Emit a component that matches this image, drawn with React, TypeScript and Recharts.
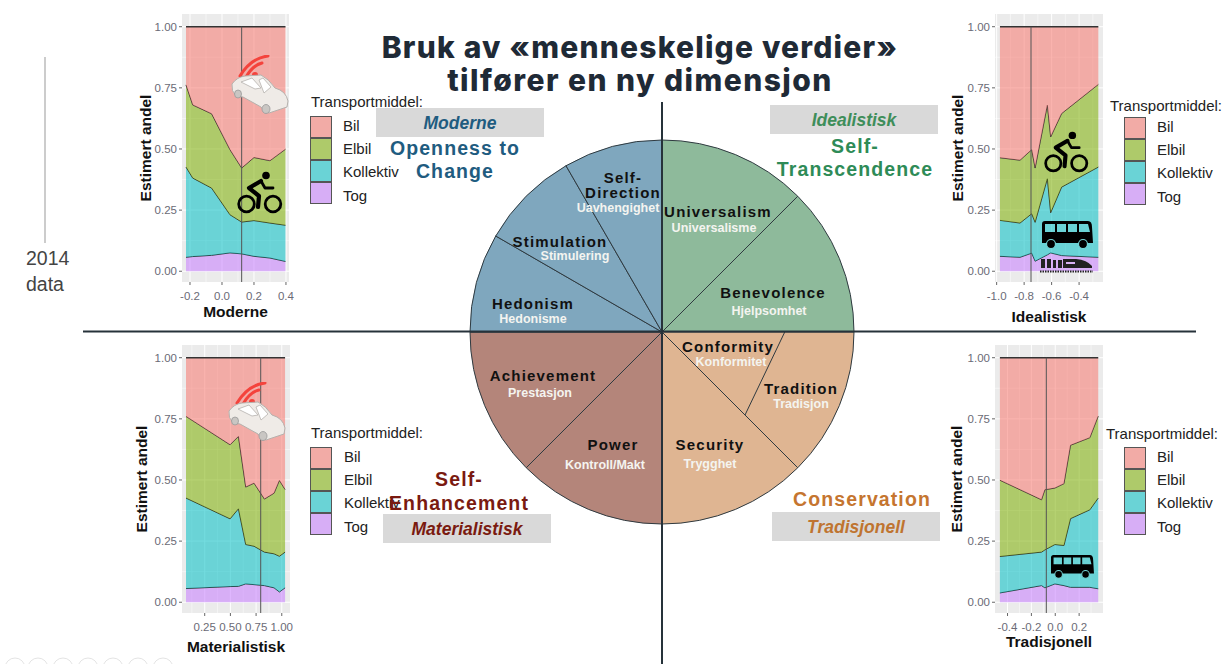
import { AreaChart, Area, XAxis, YAxis, CartesianGrid, ReferenceLine, PieChart, Pie, Cell } from "recharts";

// ---- data (boundaries between the stacked bands) ----
const modes = ["Bil", "Elbil", "Kollektiv", "Tog"];
const modeColors = ["#F8766D", "#7CAE00", "#00BFC4", "#C77CFF"];
const yTicks = [0, 0.25, 0.5, 0.75, 1];
const yMinor = [0.125, 0.375, 0.625, 0.875];

const modX = [-0.225, -0.183, -0.065, 0.05, 0.123, 0.2, 0.3, 0.397];
const modElbil = [0.762, 0.68, 0.644, 0.497, 0.422, 0.465, 0.452, 0.499];
const modKollektiv = [0.426, 0.381, 0.34, 0.231, 0.201, 0.207, 0.197, 0.188];
const modTog = [0.057, 0.06, 0.065, 0.075, 0.071, 0.061, 0.054, 0.04];

const ideX = [-0.976, -0.83, -0.745, -0.72, -0.631, -0.607, -0.527, -0.26];
const ideElbil = [0.464, 0.454, 0.497, 0.422, 0.679, 0.549, 0.645, 0.764];
const ideKollektiv = [0.208, 0.197, 0.235, 0.2, 0.378, 0.239, 0.344, 0.426];
const ideTog = [0.061, 0.057, 0.074, 0.041, 0.067, 0.075, 0.064, 0.057];

const matX = [0.068, 0.497, 0.578, 0.649, 0.73, 0.831, 0.925, 0.977, 1.032];
const matElbil = [0.76, 0.644, 0.678, 0.471, 0.487, 0.422, 0.446, 0.498, 0.461];
const matKollektiv = [0.426, 0.341, 0.382, 0.236, 0.229, 0.205, 0.198, 0.188, 0.205];
const matTog = [0.056, 0.064, 0.065, 0.075, 0.072, 0.068, 0.059, 0.042, 0.059];

const traX = [-0.464, -0.115, -0.087, -0.003, 0.073, 0.128, 0.29, 0.36];
const traElbil = [0.499, 0.419, 0.46, 0.467, 0.485, 0.642, 0.673, 0.761];
const traKollektiv = [0.187, 0.205, 0.214, 0.236, 0.232, 0.342, 0.378, 0.426];
const traTog = [0.038, 0.068, 0.059, 0.075, 0.068, 0.061, 0.061, 0.055];

const pieNames = ["Universalism", "Benevolence", "Tradition", "Security", "Power", "Achievement", "Hedonism", "Stimulation", "Self-Direction"];
const pieValues = [45, 45, 45, 45, 45, 45, 30, 30, 30];
const pieColors = ["#8EBA9B", "#8EBA9B", "#DFB592", "#DFB592", "#B4857A", "#B4857A", "#7FA7BE", "#7FA7BE", "#7FA7BE"];

const rows = (xs: number[], elbil: number[], koll: number[], tog: number[]) =>
  xs.map((x, i) => ({ x, Tog: tog[i], Kollektiv: koll[i] - tog[i], Elbil: elbil[i] - koll[i], Bil: 1 - elbil[i] }));

const sans = "'Liberation Sans', Arial, sans-serif";

function Panel({ left, top, width, title, xs, elbil, koll, tog, domain, ticks, minor, dec, vline, ylabelOffset, xlabelOffset }: any) {
  const yw = 50, xh = 50, h = 268;
  return (
    <div style={{ position: "absolute", left: left - yw, top: top - 4 }}>
      <AreaChart width={yw + width + 14} height={h + 4 + xh} data={rows(xs, elbil, koll, tog)} margin={{ top: 4, right: 14, bottom: 0, left: 0 }}>
        <CartesianGrid fill="#EBEBEB" fillOpacity={1} stroke="#fff" strokeWidth={0.5} horizontalValues={yMinor} verticalValues={minor} />
        <CartesianGrid stroke="#fff" strokeWidth={1} horizontalValues={yTicks} verticalValues={ticks} />
        <XAxis dataKey="x" type="number" domain={domain} ticks={ticks} allowDataOverflow interval={0} height={xh}
          tickFormatter={(v: number) => v.toFixed(dec)} axisLine={false} tickLine={{ stroke: "#666" }} tickSize={3} tickMargin={7}
          tick={{ fill: "#6B6B76", fontSize: 11.5, fontFamily: sans }}
          label={{ value: title, position: "insideBottom", offset: xlabelOffset, style: { fill: "#111", fontSize: 15.5, fontWeight: 700, fontFamily: sans } }} />
        <YAxis type="number" domain={[-0.044, 1.052]} ticks={yTicks} allowDataOverflow width={yw}
          tickFormatter={(v: number) => v.toFixed(2)} axisLine={false} tickLine={{ stroke: "#666" }} tickSize={3}
          tick={{ fill: "#6B6B76", fontSize: 11.5, fontFamily: sans }}
          label={{ value: "Estimert andel", angle: -90, position: "insideLeft", offset: ylabelOffset, style: { textAnchor: "middle", fill: "#111", fontSize: 15.5, fontWeight: 700, fontFamily: sans } }} />
        {["Tog", "Kollektiv", "Elbil", "Bil"].map(k => (
          <Area key={k} type="linear" dataKey={k} stackId="1" isAnimationActive={false} dot={false} activeDot={false}
            fill={modeColors[modes.indexOf(k)]} fillOpacity={0.55} stroke="#333" strokeWidth={k === "Bil" ? 1.5 : 1} />
        ))}
        <ReferenceLine segment={[{ x: vline, y: -0.044 }, { x: vline, y: 1 }]} stroke="#555" strokeWidth={1} />
      </AreaChart>
    </div>
  );
}

function ModeLegend({ x, y, titleX, titleY, textX }: any) {
  const size = 22;
  return (
    <div style={{ fontFamily: sans, fontSize: 15, color: "#222" }}>
      <div style={{ position: "absolute", left: titleX, top: titleY - 8, lineHeight: "16px", whiteSpace: "nowrap" }}>Transportmiddel:</div>
      {modes.map((m, i) => (
        <div key={m}>
          <div style={{ position: "absolute", left: x, top: y + i * size, width: size, height: size, boxSizing: "border-box", background: "#EBEBEB", border: "1.5px solid #555" }}>
            <div style={{ width: "100%", height: "100%", background: modeColors[i], opacity: 0.55 }} />
          </div>
          <div style={{ position: "absolute", left: textX, top: y + 2 + i * 23.2, lineHeight: "16px" }}>{m}</div>
        </div>
      ))}
    </div>
  );
}

const Bike = ({ x, y, w }: any) => (
  <svg style={{ position: "absolute", left: x, top: y }} width={w} height={w * 43 / 46} viewBox="0 0 46 43">
    <circle cx="9.5" cy="33" r="7.8" fill="none" stroke="#000" strokeWidth="2.8" />
    <circle cx="36" cy="33" r="7.8" fill="none" stroke="#000" strokeWidth="2.8" />
    <circle cx="29" cy="4.5" r="3.8" fill="#000" />
    <path d="M24 10 L12 17 L22 25 L21 36" fill="none" stroke="#000" strokeWidth="4.2" strokeLinejoin="round" strokeLinecap="round" />
    <path d="M24 10 L28 17 L36 17" fill="none" stroke="#000" strokeWidth="2.8" strokeLinejoin="round" strokeLinecap="round" />
  </svg>
);

const Bus = ({ x, y, w, bg }: any) => (
  <svg style={{ position: "absolute", left: x, top: y }} width={w} height={w * 28 / 51} viewBox="0 0 51 28">
    <path fillRule="evenodd" fill="#000" d="M3 0 H46 Q50 0 50 6 L51 22 H0 V3 Q0 0 3 0 Z M3 3 V11 H13 V3 Z M15 3 V11 H24 V3 Z M26 3 V11 H35 V3 Z M37 3 V11 H48 L46 3 Z" />
    <circle cx="9" cy="23" r="4.5" fill="#000" stroke={bg} strokeWidth="1.2" />
    <circle cx="41" cy="23" r="4.5" fill="#000" stroke={bg} strokeWidth="1.2" />
  </svg>
);

const Train = ({ x, y, w }: any) => (
  <svg style={{ position: "absolute", left: x, top: y }} width={w} height={w * 15 / 53} viewBox="0 0 53 15">
    <path fill="#222" d="M1 1 H5 V10 H1 Z M7 1 H11 V10 H7 Z M13 2 H16 V10 H13 Z M18 2 H22 V10 H18 Z M23 1 H36 Q47 2 52 8 V10 H23 Z" />
    <rect x="26" y="4" width="9" height="2" fill="#D9B3F5" />
    <path d="M0 13.5 H53" stroke="#222" strokeWidth="2" strokeDasharray="1.5 1" />
  </svg>
);

const Car = ({ x, y }: any) => (
  <svg style={{ position: "absolute", left: x, top: y }} width="58" height="60" viewBox="0 0 58 60">
    <path d="M9 21 Q20 3 37 1" fill="none" stroke="#F4433C" strokeWidth="3" strokeLinecap="round" />
    <path d="M15 22 Q22 10 31 8" fill="none" stroke="#F4433C" strokeWidth="3" strokeLinecap="round" />
    <circle cx="24" cy="20" r="3" fill="#F4433C" />
    <path d="M1 29 Q6 22 14 21 L30 20 Q38 24 44 33 Q55 36 57 46 L56 52 L44 56 L38 58 Q33 58 30 52 L12 42 L5 41 Q0 36 1 29 Z" fill="#EFEBE7" stroke="#B5B1AD" strokeWidth="1" />
    <path d="M10 27 L21 23 L30 33 L24 34 Z M28 25 L32 23 L40 32 L33 38 Z" fill="#fff" stroke="#B5B1AD" strokeWidth="0.8" />
    <ellipse cx="7" cy="39" rx="3.5" ry="4" fill="#C9C6C3" stroke="#999" strokeWidth="0.8" />
    <ellipse cx="35" cy="54" rx="4" ry="4.5" fill="#C9C6C3" stroke="#999" strokeWidth="0.8" />
  </svg>
);

// [text, x, y] in page pixels, black = English value, white = Norwegian
const pieLabels: [string, number, number, boolean][] = [
  ["Self-", 623, 177, true], ["Direction", 623, 192, true], ["Uavhengighet", 618, 208, false],
  ["Universalism", 718, 211, true], ["Universalisme", 714, 228, false],
  ["Stimulation", 560, 241, true], ["Stimulering", 575, 256, false],
  ["Benevolence", 773, 292, true], ["Hjelpsomhet", 769, 311, false],
  ["Hedonism", 533, 303, true], ["Hedonisme", 533, 319, false],
  ["Conformity", 728, 346, true], ["Konformitet", 731, 362, false],
  ["Tradition", 801, 388, true], ["Tradisjon", 801, 404, false],
  ["Achievement", 543, 375, true], ["Prestasjon", 540, 393, false],
  ["Power", 613, 444, true], ["Kontroll/Makt", 605, 465, false],
  ["Security", 710, 444, true], ["Trygghet", 710, 464, false],
];

const tags: [string, number, number, string][] = [
  ["Moderne", 376, 108, "#1F5C80"], ["Idealistisk", 770, 105, "#3E8E5A"],
  ["Materialistisk", 383, 514, "#7A1A10"], ["Tradisjonell", 772, 512, "#BF7430"],
];

const headings: [string, number, number, string][] = [
  ["Openness to", 455, 148, "#1F5C80"], ["Change", 455, 171, "#1F5C80"],
  ["Self-", 855, 146, "#2E8B57"], ["Transcendence", 855, 169, "#2E8B57"],
  ["Self-", 459, 479, "#7A1A10"], ["Enhancement", 459, 503, "#7A1A10"],
  ["Conservation", 862, 499, "#C5752F"],
];

export default function App() {
  return (
    <div style={{ position: "absolute", left: 0, top: 0, width: 1222, height: 664, background: "#fff", overflow: "hidden", fontFamily: sans }}>
      <svg style={{ position: "absolute", left: 0, top: 0 }} width="1222" height="664">
        <line x1="45" y1="57" x2="45" y2="243" stroke="#999" strokeWidth="1" />
        {[15, 38, 63, 88, 113, 138, 163].map(c => <circle key={c} cx={c} cy={668} r={10} fill="none" stroke="#E4E4E4" />)}
      </svg>
      <div style={{ position: "absolute", left: 26, top: 245, fontSize: 19.5, lineHeight: "26px", color: "#444" }}>2014<br />data</div>

      <div style={{ position: "absolute", left: 462, top: 132 }}>
        <PieChart width={400} height={400} margin={{ top: 0, right: 0, bottom: 0, left: 0 }}>
          <Pie data={pieNames.map((name, i) => ({ name, value: pieValues[i] }))} dataKey="value" cx={200} cy={200} outerRadius={192}
            startAngle={90} endAngle={-270} stroke="#2F3A40" strokeWidth={1} isAnimationActive={false}>
            {pieNames.map((n, i) => <Cell key={n} fill={pieColors[i]} />)}
          </Pie>
        </PieChart>
      </div>
      <svg style={{ position: "absolute", left: 0, top: 0 }} width="1222" height="664">
        <line x1="785" y1="331.5" x2="745" y2="415" stroke="#2F3A40" strokeWidth="1" />
        <line x1="662" y1="102" x2="662" y2="664" stroke="#26323A" strokeWidth="2" />
        <line x1="83" y1="331.5" x2="1196" y2="331.5" stroke="#26323A" strokeWidth="2" />
        {pieLabels.map(([t, x, y, dark]) => (
          <text key={t + x} x={x} y={y} textAnchor="middle" dominantBaseline="central" fontFamily={sans} fontWeight={700}
            fontSize={dark ? 15 : 12.5} letterSpacing={dark ? 1.2 : 0} fill={dark ? "#111" : "#F4F4F0"}>{t}</text>
        ))}
      </svg>

      <Panel left={182} top={14} width={107} title="Moderne" xs={modX} elbil={modElbil} koll={modKollektiv} tog={modTog}
        domain={[-0.25, 0.419]} ticks={[-0.2, 0, 0.2, 0.4]} minor={[-0.1, 0.1, 0.3]} dec={1} vline={0.123} ylabelOffset={13} xlabelOffset={15} />
      <Panel left={995} top={14} width={108} title="Idealistisk" xs={ideX} elbil={ideElbil} koll={ideKollektiv} tog={ideTog}
        domain={[-1.012, -0.226]} ticks={[-1, -0.8, -0.6, -0.4]} minor={[-0.9, -0.7, -0.5, -0.3]} dec={1} vline={-0.75} ylabelOffset={12} xlabelOffset={10} />
      <Panel left={182} top={345} width={108} title="Materialistisk" xs={matX} elbil={matElbil} koll={matKollektiv} tog={matTog}
        domain={[0.029, 1.08]} ticks={[0.25, 0.5, 0.75, 1]} minor={[0.125, 0.375, 0.625, 0.875]} dec={2} vline={0.795} ylabelOffset={9} xlabelOffset={11} />
      <Panel left={995} top={345} width={108} title="Tradisjonell" xs={traX} elbil={traElbil} koll={traKollektiv} tog={traTog}
        domain={[-0.505, 0.4]} ticks={[-0.4, -0.2, 0, 0.2]} minor={[-0.3, -0.1, 0.1, 0.3]} dec={1} vline={-0.075} ylabelOffset={11} xlabelOffset={16} />

      <ModeLegend x={310} y={116} titleX={311} titleY={102} textX={343} />
      <ModeLegend x={1124} y={117} titleX={1110} titleY={106} textX={1157} />
      <ModeLegend x={310} y={447} titleX={311} titleY={433} textX={344} />
      <ModeLegend x={1124} y={447} titleX={1106} titleY={434} textX={1157} />

      <Car x={231} y={55} />
      <Car x={228} y={382} />
      <Bike x={237} y={171} w={46} />
      <Bike x={1044} y={131} w={45} />
      <Bus x={1042} y={221} w={51} bg="#75D5D7" />
      <Bus x={1051} y={555} w={43} bg="#75D5D7" />
      <Train x={1040} y={258} w={53} />

      {tags.map(([t, x, y, c]) => (
        <div key={t} style={{ position: "absolute", left: x, top: y, width: 168, height: 29, background: "#D9D9D9", color: c, fontSize: 17.5, fontWeight: 700, fontStyle: "italic", textAlign: "center", lineHeight: "31px" }}>{t}</div>
      ))}
      <svg style={{ position: "absolute", left: 0, top: 0 }} width="1222" height="664">
        <text x="640" y="47" textAnchor="middle" dominantBaseline="central" fontFamily="Inter" fontWeight={800} fontSize={30} letterSpacing={1.2} fill="#1F2A36">Bruk av «menneskelige verdier»</text>
        <text x="640" y="80" textAnchor="middle" dominantBaseline="central" fontFamily="Inter" fontWeight={800} fontSize={30} letterSpacing={1.45} fill="#1F2A36">tilfører en ny dimensjon</text>
        {headings.map(([t, x, y, c]) => (
          <text key={t + x} x={x} y={y} textAnchor="middle" dominantBaseline="central" fontFamily={sans} fontWeight={700} fontSize={19.5} letterSpacing={1.1} fill={c}>{t}</text>
        ))}
      </svg>
    </div>
  );
}
